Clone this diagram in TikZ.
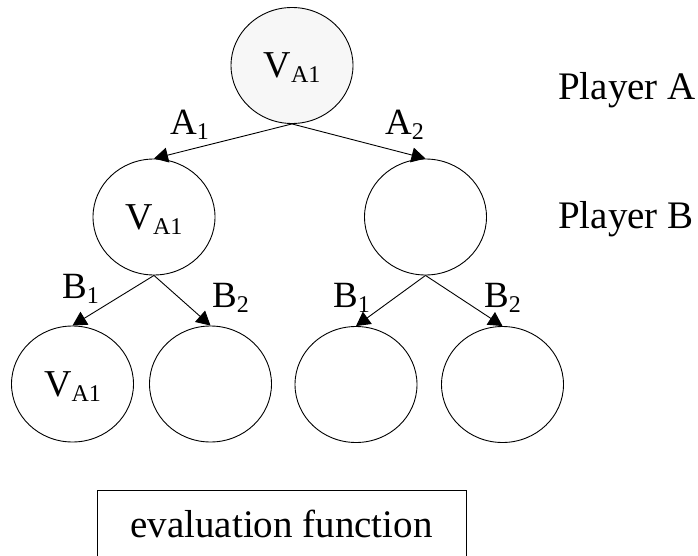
\documentclass[tikz,border=0pt]{standalone}
\usepackage{fontspec}
\setmainfont{Liberation Serif}
\usetikzlibrary{arrows.meta, positioning, shapes.geometric}
\usepackage{xcolor}
\definecolor{rootgray}{HTML}{F7F7F7}
\newcommand{\lowsub}[1]{\raisebox{-5pt}{\fontsize{24}{24}\selectfont #1}}

\begin{document}
\begin{tikzpicture}[x=1pt, y=-1pt,
    vnode/.style={ellipse, draw, line width=0.9pt, minimum width=122pt,
                  minimum height=116pt, inner sep=0pt, text depth=0pt,
                  font=\fontsize{38}{40}\selectfont},
    lbl/.style={anchor=base west, inner sep=0pt,
                font=\fontsize{37}{40}\selectfont},
    player/.style={anchor=base west, inner sep=0pt,
                   font=\fontsize{39}{42}\selectfont},
    evalbox/.style={rectangle, draw, line width=0.9pt, minimum width=369pt,
                    minimum height=68pt, inner sep=0pt,
                    font=\fontsize{39}{42}\selectfont},
    arr/.style={-{Triangle[length=14pt, width=15pt]}, line width=0.9pt}
  ]
    \useasboundingbox (0,0) rectangle (698,556);
    \node[vnode, fill=rootgray] (root) at (292,65.5) {V\lowsub{A1}};
    \node[vnode] (ml) at (154,217) {V\lowsub{A1}};
    \node[vnode] (mr) at (425.5,217) {};
    \node[vnode] (b1) at (72.5,384) {V\lowsub{A1}};
    \node[vnode] (b2) at (210.5,384) {};
    \node[vnode] (b3) at (356,384.5) {};
    \node[vnode] (b4) at (502.5,384.5) {};
    \draw[arr] (root.south) -- (ml.north);
    \draw[arr] (root.south) -- (mr.north);
    \draw[arr] (ml.south) -- (b1.north);
    \draw[arr] (ml.south) -- (b2.north);
    \draw[arr] (mr.south) -- (b3.north);
    \draw[arr] (mr.south) -- (b4.north);
    \node[lbl] (la1) at (170,135) {A\lowsub{1}};
    \node[lbl] (la2) at (385,135) {A\lowsub{2}};
    \node[lbl] (lb1) at (62,298) {B\lowsub{1}};
    \node[lbl] (lb2) at (212,307) {B\lowsub{2}};
    \node[lbl] (lb3) at (333,307) {B\lowsub{1}};
    \node[lbl] (lb4) at (484,307) {B\lowsub{2}};
    \node[player] (pa) at (558,100) {Player A};
    \node[player] (pb) at (558,228) {Player B};
    \node[evalbox] (eval) at (281.5,524) {evaluation function};
  \end{tikzpicture}
\end{document}
